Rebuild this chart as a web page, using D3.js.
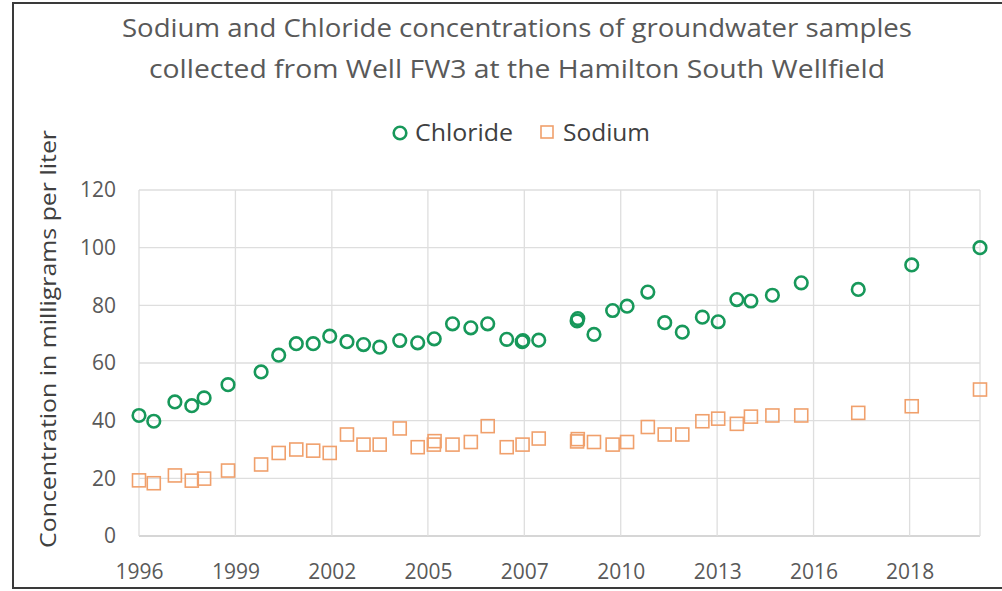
<!DOCTYPE html>
<html>
<head>
<meta charset="utf-8">
<script src="https://cdn.jsdelivr.net/npm/d3@7"></script>
<style>
  body { margin: 0; background: #fff; }
  svg { display: block; font-family: "Open Sans", sans-serif; }
</style>
</head>
<body>
<div id="chart-area"></div>
<script>

// sample dates (decimal years) and values
let chlorideDates = [1996.90, 1997.32, 1997.92, 1998.40, 1998.75, 1999.43, 2000.37, 2000.87, 2001.37, 2001.85,
  2002.32, 2002.81, 2003.28, 2003.74, 2004.31, 2004.82, 2005.29, 2005.81, 2006.33, 2006.81,
  2007.35, 2007.79, 2007.81, 2008.26, 2009.35, 2009.37, 2009.83, 2010.36, 2010.77, 2011.36,
  2011.84, 2012.34, 2012.91, 2013.36, 2013.89, 2014.29, 2014.90, 2015.72, 2017.34, 2018.86, 2020.80];
let chloride = [41.8, 39.8, 46.5, 45.2, 47.9, 52.5, 56.9, 62.7, 66.7, 66.7,
  69.3, 67.4, 66.4, 65.5, 67.8, 67.0, 68.4, 73.6, 72.2, 73.6,
  68.2, 67.4, 67.8, 67.9, 74.6, 75.4, 69.9, 78.2, 79.7, 84.6,
  74.0, 70.7, 75.9, 74.3, 82.0, 81.5, 83.5, 87.8, 85.5, 94.0, 100.0];

let sodiumDates = [1996.90, 1997.32, 1997.92, 1998.40, 1998.75, 1999.43, 2000.37, 2000.87, 2001.37, 2001.85,
  2002.32, 2002.81, 2003.28, 2003.74, 2004.31, 2004.82, 2005.28, 2005.30, 2005.81, 2006.33,
  2006.81, 2007.35, 2007.80, 2008.26, 2009.35, 2009.37, 2009.83, 2010.36, 2010.77, 2011.36,
  2011.84, 2012.34, 2012.91, 2013.36, 2013.89, 2014.29, 2014.90, 2015.72, 2017.34, 2018.86, 2020.80];
let sodium = [19.3, 18.3, 21.0, 19.2, 19.9, 22.7, 24.8, 28.8, 30.0, 29.6,
  28.8, 35.2, 31.7, 31.7, 37.3, 30.8, 31.7, 32.9, 31.7, 32.6,
  38.1, 30.8, 31.7, 33.8, 32.8, 33.6, 32.6, 31.7, 32.6, 37.8,
  35.2, 35.2, 39.8, 40.7, 38.9, 41.4, 41.8, 41.8, 42.7, 45.0, 50.8];

// x ticks (date axis, 1000-day steps) and y ticks
let xTickValues = [1996.90, 1999.64, 2002.38, 2005.11, 2007.85, 2010.59, 2013.33, 2016.07, 2018.80];
let xTickLabels = ["1996", "1999", "2002", "2005", "2007", "2010", "2013", "2016", "2018"];
let yTickValues = [0, 20, 40, 60, 80, 100, 120];

let titleLines = ["Sodium and Chloride concentrations of groundwater samples",
  "collected from Well FW3 at the Hamilton South Wellfield"];

let W = 1002, H = 591;
let m = {top: 190, right: 22, bottom: 55, left: 139};
let w = 980 - m.left;
let h = 536 - m.top;

let green = "#17985a", orange = "#f0a06c";

let svg = d3.select("#chart-area")
    .append("svg")
    .attr("width", W)
    .attr("height", H);

// frame of the screenshot
svg.append("rect")
    .attr("x", 13).attr("y", 3)
    .attr("width", W + 10).attr("height", 585)
    .attr("fill", "#fff")
    .attr("stroke", "#3a3a3a")
    .attr("stroke-width", 2);

let g = svg.append("g")
    .attr("transform", "translate(" + m.left + "," + m.top + ")");

let x = d3.scaleLinear()
    .domain([xTickValues[0], 2020.80])
    .range([0, w]);

let y = d3.scaleLinear()
    .domain([0, 120])
    .range([h, 0]);

// grid
g.selectAll(".hgrid")
    .data(yTickValues)
    .enter().append("line")
    .attr("x1", 0).attr("x2", w)
    .attr("y1", function(d){ return y(d); })
    .attr("y2", function(d){ return y(d); })
    .attr("stroke", function(d){ return d === 0 ? "#c8c8c8" : "#dedede"; })
    .attr("stroke-width", 1.3);

g.selectAll(".vgrid")
    .data(xTickValues.concat([x.domain()[1]]))
    .enter().append("line")
    .attr("x1", function(d){ return x(d); })
    .attr("x2", function(d){ return x(d); })
    .attr("y1", 0).attr("y2", h)
    .attr("stroke", "#dedede")
    .attr("stroke-width", 1.3);

// axes (labels only)
let xAxisCall = d3.axisBottom(x)
    .tickValues(xTickValues)
    .tickSize(0)
    .tickPadding(26)
    .tickFormat(function(d, i){ return xTickLabels[i]; });
let xAxis = g.append("g")
    .attr("class", "x axis")
    .attr("transform", "translate(0," + h + ")")
    .call(xAxisCall);

let yAxisCall = d3.axisLeft(y)
    .tickValues(yTickValues)
    .tickSize(0)
    .tickPadding(23);
let yAxis = g.append("g")
    .attr("class", "y axis")
    .call(yAxisCall);

[xAxis, yAxis].forEach(function(a){
  a.select(".domain").remove();
  a.selectAll("text")
      .attr("fill", "#595959")
      .attr("font-family", "Open Sans, sans-serif")
      .attr("font-size", "21px");
});
xAxis.selectAll("text").attr("dy", "0.35em").attr("y", 36);

// sodium squares
let s = 13;
g.selectAll(".sodium")
    .data(sodium)
    .enter().append("rect")
    .attr("x", function(d, i){ return x(sodiumDates[i]) - s / 2; })
    .attr("y", function(d){ return y(d) - s / 2; })
    .attr("width", s).attr("height", s)
    .attr("fill", "none")
    .attr("stroke", orange)
    .attr("stroke-width", 1.6);

// chloride circles
g.selectAll(".chloride")
    .data(chloride)
    .enter().append("circle")
    .attr("cx", function(d, i){ return x(chlorideDates[i]); })
    .attr("cy", function(d){ return y(d); })
    .attr("r", 6.3)
    .attr("fill", "none")
    .attr("stroke", green)
    .attr("stroke-width", 2.6);

// title
let titleWidths = [790, 736];
svg.selectAll(".title")
    .data(titleLines)
    .enter().append("text")
    .attr("x", 517)
    .attr("y", function(d, i){ return 37 + i * 41; })
    .attr("text-anchor", "middle")
    .attr("fill", "#595959")
    .attr("font-size", "25px")
    .attr("textLength", function(d, i){ return titleWidths[i]; })
    .attr("lengthAdjust", "spacingAndGlyphs")
    .text(function(d){ return d; });

// legend
let legend = svg.append("g");
legend.append("circle")
    .attr("cx", 400).attr("cy", 133).attr("r", 6.3)
    .attr("fill", "none").attr("stroke", green).attr("stroke-width", 2.6);
legend.append("text")
    .attr("x", 415).attr("y", 141)
    .attr("fill", "#404040").attr("font-size", "23px")
    .attr("textLength", 98).attr("lengthAdjust", "spacingAndGlyphs")
    .text("Chloride");
legend.append("rect")
    .attr("x", 541).attr("y", 126).attr("width", 12).attr("height", 12)
    .attr("fill", "none").attr("stroke", orange).attr("stroke-width", 1.6);
legend.append("text")
    .attr("x", 563).attr("y", 141)
    .attr("fill", "#404040").attr("font-size", "23px")
    .attr("textLength", 87).attr("lengthAdjust", "spacingAndGlyphs")
    .text("Sodium");

// y label
svg.append("text")
    .attr("transform", "translate(56,339) rotate(-90)")
    .attr("text-anchor", "middle")
    .attr("fill", "#404040")
    .attr("font-size", "22px")
    .attr("textLength", 418).attr("lengthAdjust", "spacingAndGlyphs")
    .text("Concentration in milligrams per liter");

</script>
</body>
</html>
